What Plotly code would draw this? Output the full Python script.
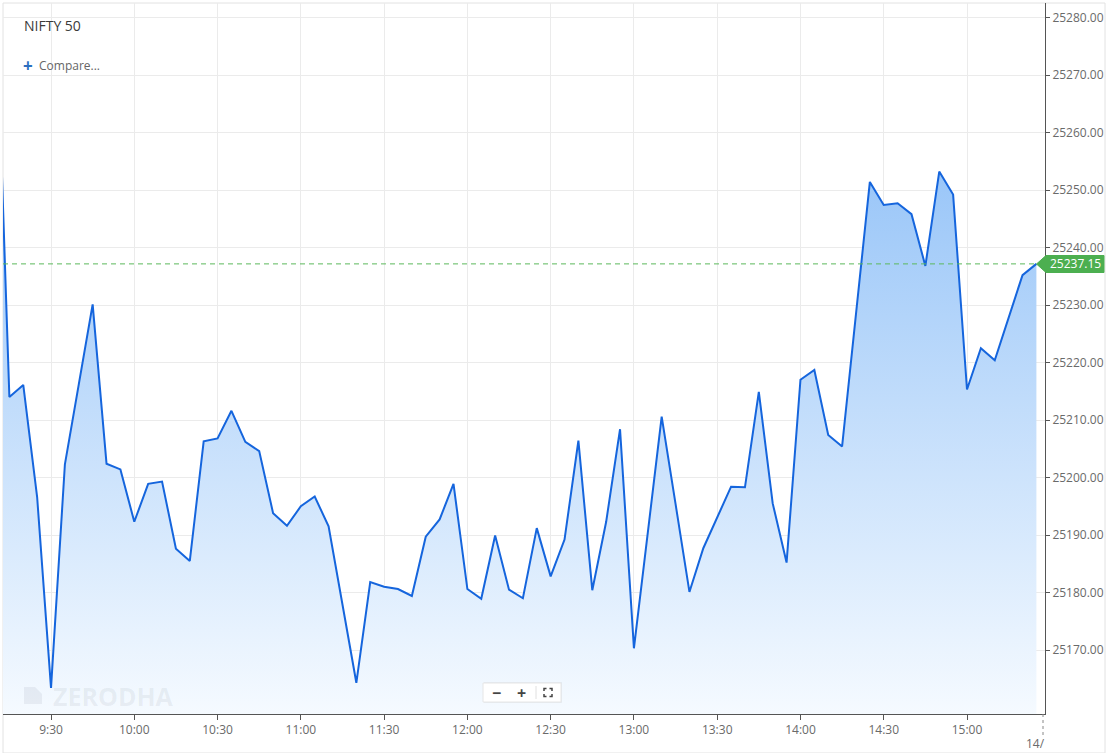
import pandas as pd
import plotly.graph_objects as go

# ---------------- data ----------------
session_date = "2025-10-13"
times = pd.date_range(f"{session_date} 09:10", f"{session_date} 15:25", freq="5min")
prices = [
    25286.0,  # 09:10 (clipped at left edge)
    25214.0, 25216.1, 25196.6, 25163.4, 25202.3, 25216.2, 25230.1, 25202.4, 25201.4,   # 09:15-09:55
    25192.3, 25198.9, 25199.3, 25187.6, 25185.5, 25206.3, 25206.8, 25211.6, 25206.2, 25204.6, 25193.8, 25191.6,  # 10:xx
    25195.0, 25196.7, 25191.5, 25178.0, 25164.3, 25181.8, 25181.0, 25180.6, 25179.4, 25189.7, 25192.7, 25198.9,  # 11:xx
    25180.6, 25178.9, 25189.9, 25180.5, 25179.0, 25191.2, 25182.8, 25189.2, 25206.4, 25180.4, 25192.3, 25208.4,  # 12:xx
    25170.3, 25190.4, 25210.6, 25195.4, 25180.1, 25187.7, 25193.2, 25198.4, 25198.3, 25214.9, 25195.5, 25185.2,  # 13:xx
    25217.0, 25218.7, 25207.4, 25205.4, 25228.4, 25251.4, 25247.4, 25247.7, 25245.8, 25236.8, 25253.2, 25249.2,  # 14:xx
    25215.3, 25222.5, 25220.4, 25227.9, 25235.2, 25237.15,  # 15:00-15:25
]
last_price = 25237.15
x_tick_labels = ["9:30", "10:00", "10:30", "11:00", "11:30", "12:00",
                 "12:30", "13:00", "13:30", "14:00", "14:30", "15:00"]
x_tick_times = [f"{session_date} {t.zfill(5)}:00" for t in x_tick_labels]
y_ticks = [25170, 25180, 25190, 25200, 25210, 25220, 25230, 25240, 25250, 25260, 25270, 25280]
title_text = "NIFTY 50"
next_day_label = "14/"

# ---------------- layout geometry ----------------
W, H = 1109, 753
L, R, T, B = 3, 1045, 3, 714


def PX(px):
    return (px - L) / (R - L)


def PY(py):
    return (B - py) / (B - T)


y_range = [25280 - (B - 17.5) / 5.75, 25280 + (17.5 - T) / 5.75]
x_range = [f"{session_date} 09:12:42", f"{session_date} 15:28:06"]

fig = go.Figure()
fig.add_trace(go.Scatter(
    x=times, y=prices, mode="lines",
    line=dict(color="#1565dd", width=2),
    fill="tozeroy",
    fillgradient=dict(type="vertical", start=y_range[0], stop=25255,
                      colorscale=[[0, "rgb(245,250,255)"], [1, "rgb(152,197,248)"]]),
    hoverinfo="skip", showlegend=False,
))

grid = "#ebebeb"
axis_col = "#555555"
tick_font = dict(family="Open Sans", size=12, color="#6a6a6a")

fig.update_layout(
    width=W, height=H,
    margin=dict(l=L, r=W - R, t=T, b=H - B, pad=0),
    paper_bgcolor="white", plot_bgcolor="white",
    showlegend=False,
    xaxis=dict(
        type="date", range=x_range,
        tickmode="array", tickvals=x_tick_times, ticktext=x_tick_labels,
        showgrid=True, gridcolor=grid, gridwidth=1,
        showline=True, linecolor=axis_col, linewidth=1,
        ticks="outside", ticklen=5, tickcolor=axis_col,
        tickfont=tick_font, zeroline=False, fixedrange=True,
    ),
    yaxis=dict(
        side="right", range=y_range,
        tickmode="array", tickvals=y_ticks, tickformat=".2f",
        showgrid=True, gridcolor=grid, gridwidth=1,
        showline=True, linecolor=axis_col, linewidth=1,
        ticks="outside", ticklen=4, tickcolor=axis_col,
        tickfont=tick_font, zeroline=False, fixedrange=True,
    ),
)

green = "#4caf50"
shapes = []
# outer frame
shapes.append(dict(type="rect", xref="paper", yref="paper",
                   x0=PX(3), x1=PX(1105), y0=PY(753), y1=PY(3),
                   line=dict(color="#e2e2e2", width=1), layer="below"))
# last price dashed line
shapes.append(dict(type="line", xref="paper", yref="y", x0=0, x1=1,
                   y0=last_price, y1=last_price,
                   line=dict(color="#5cb85c", width=1, dash="5px,4px")))
# price tag
tag_path = (f"M {PX(1036.5)},{PY(264)} L {PX(1046)},{PY(255.5)} L {PX(1104)},{PY(255.5)} "
            f"L {PX(1104)},{PY(272.5)} L {PX(1046)},{PY(272.5)} Z")
shapes.append(dict(type="path", xref="paper", yref="paper", path=tag_path,
                   fillcolor=green, line=dict(color=green, width=1), layer="above"))
# dotted day separator tick
shapes.append(dict(type="line", xref="paper", yref="paper",
                   x0=PX(1043), x1=PX(1043), y0=PY(714), y1=PY(736),
                   line=dict(color="#888888", width=1, dash="dot")))
# watermark logo
logo = (f"M {PX(24)},{PY(704)} L {PX(24)},{PY(687)} L {PX(35)},{PY(687)} "
        f"L {PX(42)},{PY(694)} L {PX(42)},{PY(704)} Z")
shapes.append(dict(type="path", xref="paper", yref="paper", path=logo,
                   fillcolor="rgba(110,120,135,0.10)", line=dict(width=0), layer="above"))
# zoom control box
shapes.append(dict(type="rect", xref="paper", yref="paper",
                   x0=PX(484), x1=PX(562), y0=PY(703), y1=PY(682),
                   fillcolor="rgba(0,0,0,0.05)", line=dict(width=0), layer="above"))
shapes.append(dict(type="rect", xref="paper", yref="paper",
                   x0=PX(483), x1=PX(561), y0=PY(702), y1=PY(683),
                   fillcolor="white", line=dict(color="#e6e6e6", width=1), layer="above"))
shapes.append(dict(type="line", xref="paper", yref="paper",
                   x0=PX(536), x1=PX(536), y0=PY(699), y1=PY(686),
                   line=dict(color="#e0e0e0", width=1), layer="above"))
# expand icon corners
cx, cy, s, a = 548, 692.5, 4, 2.5
for dx, dy in [(-1, -1), (1, -1), (-1, 1), (1, 1)]:
    px0, py0 = cx + dx * s, cy + dy * s
    p = (f"M {PX(px0 - dx * a)},{PY(py0)} L {PX(px0)},{PY(py0)} L {PX(px0)},{PY(py0 - dy * a)}")
    shapes.append(dict(type="path", xref="paper", yref="paper", path=p,
                       line=dict(color="#444444", width=1.5), layer="above"))
fig.update_layout(shapes=shapes)

ann = []
ann.append(dict(text=title_text, xref="paper", yref="paper", x=PX(22), y=PY(25),
                xanchor="left", yanchor="middle", showarrow=False,
                font=dict(family="Open Sans", size=14, color="#3a3a3a")))
ann.append(dict(text="<b>+</b>", xref="paper", yref="paper", x=PX(21), y=PY(65.5),
                xanchor="left", yanchor="middle", showarrow=False,
                font=dict(family="Open Sans", size=17, color="#2c6fbf")))
ann.append(dict(text="Compare...", xref="paper", yref="paper", x=PX(37), y=PY(65.5),
                xanchor="left", yanchor="middle", showarrow=False,
                font=dict(family="Open Sans", size=12, color="#666666")))
ann.append(dict(text=f"{last_price:.2f}", xref="paper", yref="paper", x=PX(1075), y=PY(264),
                xanchor="center", yanchor="middle", showarrow=False,
                font=dict(family="Open Sans", size=12, color="white")))
ann.append(dict(text=next_day_label, xref="paper", yref="paper", x=PX(1047), y=PY(743),
                xanchor="right", yanchor="middle", showarrow=False,
                font=dict(family="Open Sans", size=12, color="#6a6a6a")))
ann.append(dict(text="<b>ZERODHA</b>", xref="paper", yref="paper", x=PX(51), y=PY(695.5),
                xanchor="left", yanchor="middle", showarrow=False,
                font=dict(family="Open Sans", size=25, color="rgba(110,120,135,0.10)")))
ann.append(dict(text="<b>−</b>", xref="paper", yref="paper", x=PX(496), y=PY(692.5),
                xanchor="center", yanchor="middle", showarrow=False,
                font=dict(family="Open Sans", size=16, color="#444444")))
ann.append(dict(text="<b>+</b>", xref="paper", yref="paper", x=PX(521.5), y=PY(692.5),
                xanchor="center", yanchor="middle", showarrow=False,
                font=dict(family="Open Sans", size=16, color="#444444")))
fig.update_layout(annotations=ann)

fig.write_html("out.html", config={"displayModeBar": False},
               post_script="document.body.style.margin='0';document.body.style.overflow='hidden';")
